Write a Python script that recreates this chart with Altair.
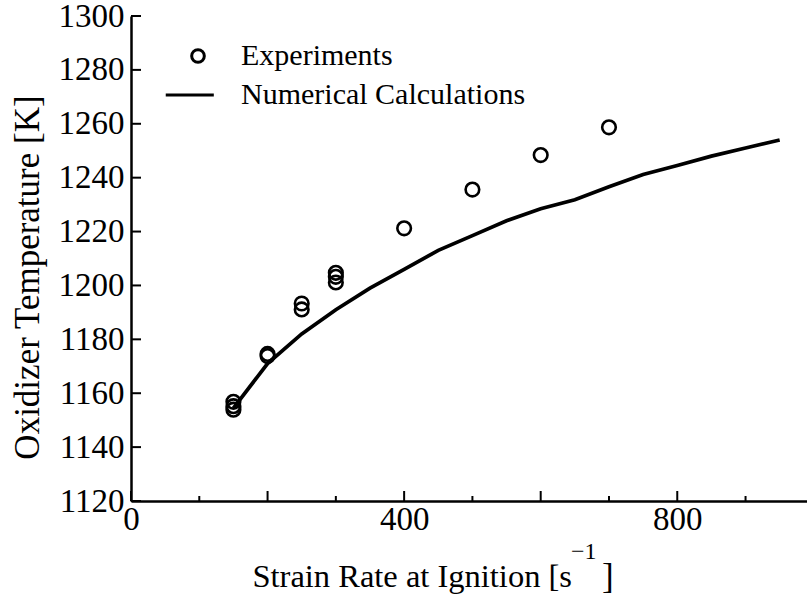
import altair as alt
import pandas as pd

# ---- data ----
exp_x = [150, 150, 150, 200, 200, 250, 250, 300, 300, 300, 400, 500, 600, 700]
exp_y = [1156.8, 1155.2, 1153.9, 1174.6, 1173.8, 1193.3, 1191.1, 1204.7, 1203.2, 1201.1,
         1221.2, 1235.6, 1248.4, 1258.7]

num_x = [150, 200, 250, 300, 350, 400, 450, 500, 550, 600, 650, 700, 750, 800, 850, 900, 950]
num_y = [1154.5, 1171.0, 1182.0, 1191.0, 1199.0, 1206.0, 1213.0, 1218.5, 1224.0, 1228.5,
         1231.8, 1236.6, 1241.2, 1244.5, 1248.0, 1251.0, 1254.0]

series_names = ["Experiments", "Numerical Calculations"]

x_label_values = [0, 400, 800]
x_major_ticks = [0, 200, 400, 600, 800]
x_minor_ticks = [100, 300, 500, 700, 900]
y_tick_values = [1120, 1140, 1160, 1180, 1200, 1220, 1240, 1260, 1280, 1300]

x_title_main = ["Strain Rate at Ignition [s"]
x_title_sup = ["\u22121"]
x_title_end = ["]"]
y_title = "Oxidizer Temperature [K]"

FONT = "Liberation Serif"
W, H = 676, 485

xs = alt.Scale(domain=[0, 990], nice=False, zero=False)
ys = alt.Scale(domain=[1120, 1300], nice=False, zero=False)

exp_df = pd.DataFrame({"x": exp_x, "y": exp_y, "series": [series_names[0]] * len(exp_x)})
num_df = pd.DataFrame({"x": num_x, "y": num_y, "series": [series_names[1]] * len(num_x)})

x_axis = alt.Axis(values=x_label_values, format="d", labelFont=FONT, labelFontSize=33,
                  labelColor="black", labelPadding=2, ticks=False, tickSize=0, grid=False,
                  domainColor="black", domainWidth=2.5, title="", labelFlush=False)
y_axis = alt.Axis(values=y_tick_values, format="d", labelFont=FONT, labelFontSize=33,
                  labelColor="black", labelPadding=7, ticks=False, tickSize=0, grid=False,
                  domainColor="black", domainWidth=2.5, title=y_title, titleFont=FONT,
                  titleFontSize=35, titleFontWeight="normal", titleColor="black",
                  titleAngle=270, titleAlign="center", titleBaseline="middle",
                  titleX=-104, titleY=261, labelFlush=False)

line = alt.Chart(num_df).mark_line(color="black", strokeWidth=3.7).encode(
    x=alt.X("x:Q", scale=xs, axis=x_axis),
    y=alt.Y("y:Q", scale=ys, axis=y_axis),
)

points = alt.Chart(exp_df).mark_point(filled=False, color="black", strokeWidth=2.6, size=185,
                                      opacity=1).encode(
    x=alt.X("x:Q", scale=xs),
    y=alt.Y("y:Q", scale=ys),
    shape=alt.Shape("series:N",
                    scale=alt.Scale(domain=series_names, range=["circle", "M-5.1,0L2.5,0"]),
                    legend=alt.Legend(title=None, orient="none", legendX=52, legendY=25,
                                      labelFont=FONT, labelFontSize=30, labelColor="black",
                                      labelLimit=500, symbolSize=160, symbolStrokeWidth=3,
                                      symbolStrokeColor="black", symbolFillColor="transparent",
                                      labelOffset=28, rowPadding=9, padding=0)),
)

ytick_df = pd.DataFrame({"v": y_tick_values})
xmaj_df = pd.DataFrame({"v": x_major_ticks})
xmin_df = pd.DataFrame({"v": x_minor_ticks})

yticks = alt.Chart(ytick_df).mark_tick(orient="horizontal", size=10, thickness=2, xOffset=5,
                                       color="black", opacity=1).encode(
    y=alt.Y("v:Q", scale=ys), x=alt.value(0))
xmaj = alt.Chart(xmaj_df).mark_tick(orient="vertical", size=10, thickness=2, yOffset=-5,
                                    color="black", opacity=1).encode(
    x=alt.X("v:Q", scale=xs), y=alt.value(H))
xmin = alt.Chart(xmin_df).mark_tick(orient="vertical", size=5, thickness=2, yOffset=-2.5,
                                    color="black", opacity=1).encode(
    x=alt.X("v:Q", scale=xs), y=alt.value(H))

t_main = alt.Chart(pd.DataFrame({"t": x_title_main})).mark_text(
    font=FONT, fontSize=32.5, align="right", baseline="alphabetic", color="black").encode(
    text="t:N", x=alt.value(441), y=alt.value(571))
t_sup = alt.Chart(pd.DataFrame({"t": x_title_sup})).mark_text(
    font=FONT, fontSize=24, align="left", baseline="alphabetic", color="black").encode(
    text="t:N", x=alt.value(440), y=alt.value(543))
t_end = alt.Chart(pd.DataFrame({"t": x_title_end})).mark_text(
    font=FONT, fontSize=35, align="left", baseline="alphabetic", color="black").encode(
    text="t:N", x=alt.value(471), y=alt.value(572))

chart = alt.layer(line, points, yticks, xmaj, xmin, t_main, t_sup, t_end).properties(
    width=W, height=H,
    autosize=alt.AutoSizeParams(type="none"),
    padding={"left": 131, "top": 16, "right": 0, "bottom": 97},
    background="white",
).configure_view(strokeWidth=0)

chart.save("out.html", embed_options={"renderer": "svg", "actions": False})
